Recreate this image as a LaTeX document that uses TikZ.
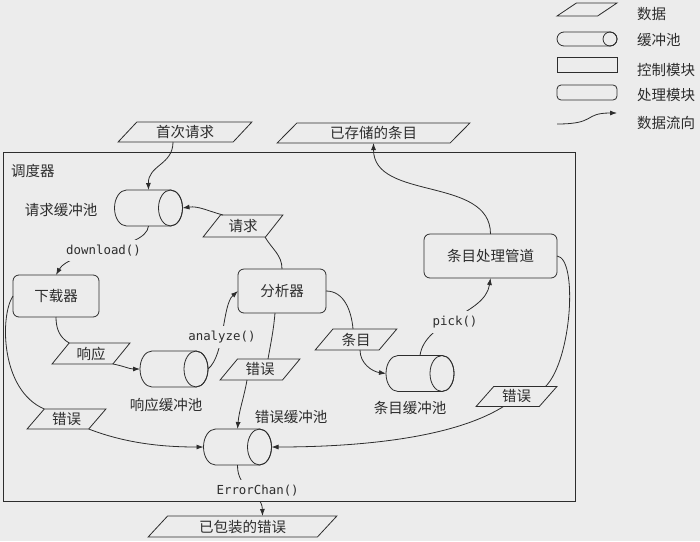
\documentclass[tikz,border=0pt]{standalone}
\usepackage{fontspec}
\setmainfont{Noto Sans CJK SC}
\setmonofont{DejaVu Sans Mono}
\usetikzlibrary{shapes.geometric,arrows.meta,calc}
\definecolor{bg}{RGB}{236,236,236}
\definecolor{ink}{RGB}{45,45,45}
\tikzset{
  every node/.style={text=ink},
  ln/.style={draw=ink, line width=0.8pt},
  arr/.style={ln, -{Latex[length=7pt,width=5pt]}},
  cjk/.style={font=\fontsize{14.5}{16}\selectfont},
  data/.style={cjk, trapezium, trapezium left angle=50, trapezium right angle=130,
    trapezium stretches=true, draw=ink, line width=0.8pt, inner sep=0pt, outer sep=0pt},
  proc/.style={cjk, rectangle, rounded corners=6pt, draw=ink, line width=0.8pt, inner sep=0pt, outer sep=0pt},
  buf/.style={rectangle, inner sep=0pt, outer sep=0pt, minimum width=68pt, minimum height=36pt},
  lbl/.style={cjk, inner sep=0pt},
  code/.style={font=\ttfamily\fontsize{12.4}{14}\selectfont, fill=bg, inner xsep=1pt, inner ysep=5pt},
}
\newcommand\cylshape[3]{%
  \draw[ln] ($(#1.north west)+(#2,0)$) arc[start angle=90,end angle=270,x radius=#2,y radius=#3]
    -- ($(#1.south east)-(#2,0)$) arc[start angle=-90,end angle=90,x radius=#2,y radius=#3] -- cycle;
  \draw[ln] ($(#1.east)-(#2,0)$) ellipse[x radius=#2,y radius=#3];
}
\begin{document}
\begin{tikzpicture}[x=1pt,y=1pt]
\useasboundingbox (0,0) rectangle (700,-541);
\fill[bg] (0,0) rectangle (700,-541);

% frame
\draw[ln] (3,-152) rectangle (575,-501);
\node[lbl,anchor=west] (sched) at (11,-171) {调度器};

% data nodes
\node[data,minimum width=134pt,minimum height=20pt] (first) at (185,-132) {首次请求};
\node[data,minimum width=193pt,minimum height=20pt] (stored) at (373.5,-133) {已存储的条目};
\node[data,minimum width=80pt,minimum height=22pt] (req) at (243,-226) {请求};
\node[data,minimum width=78pt,minimum height=21pt] (resp) at (91,-353.5) {响应};
\node[data,minimum width=80pt,minimum height=21pt] (err2) at (260,-369.5) {错误};
\node[data,minimum width=82pt,minimum height=21pt] (item) at (356,-339.5) {条目};
\node[data,minimum width=79pt,minimum height=20pt] (err1) at (66.5,-419) {错误};
\node[data,minimum width=81pt,minimum height=20pt] (err3) at (516.5,-396.5) {错误};
\node[data,minimum width=189pt,minimum height=21pt] (wrapped) at (242.5,-526.5) {已包装的错误};

% process nodes
\node[proc,minimum width=86pt,minimum height=42pt] (dlr) at (56,-296) {下载器};
\node[proc,minimum width=88pt,minimum height=44pt] (ana) at (282,-291) {分析器};
\node[proc,minimum width=133pt,minimum height=44pt] (pipe) at (490.5,-256) {条目处理管道};

% buffers
\node[buf] (reqbuf) at (148.5,-208) {};
\node[buf] (respbuf) at (174,-369) {};
\node[buf] (itembuf) at (420,-373.5) {};
\node[buf] (errbuf) at (237.5,-447) {};
\cylshape{reqbuf}{12}{18}
\cylshape{respbuf}{12}{18}
\cylshape{itembuf}{12}{18}
\cylshape{errbuf}{12}{18}
\node[lbl] (reqlbl) at (61,-210) {请求缓冲池};
\node[lbl] (resplbl) at (166,-405) {响应缓冲池};
\node[lbl] (itemlbl) at (410,-408) {条目缓冲池};
\node[lbl] (errlbl) at (291,-417) {错误缓冲池};

% connectors
\draw[arr] ([xshift=-12pt]first.south) .. controls (173,-165) and (148,-165) .. (reqbuf.north);
\draw[arr] (reqbuf.south) .. controls (146,-250) and (70,-250) .. (dlr.north)
  node[code,pos=0.5,xshift=-3pt] (dl) {download()};
\draw[ln] (ana.north) to[out=90,in=-60] ([xshift=22pt]req.south);
\draw[arr] ([xshift=-20pt]req.north) to[out=165,in=8] (reqbuf.east);
\draw[ln] (dlr.south) to[out=-90,in=150] (resp.top left corner);
\draw[arr] (resp.bottom right corner) to[out=-10,in=180] (respbuf.west);
\draw[arr] (respbuf.east) .. controls (225,-355) and (222,-305) .. (ana.west)
  node[code,pos=0.43] (an) {analyze()};
\draw[ln] ([xshift=-7pt]ana.south) to[out=-95,in=80] ([xshift=8pt]err2.north);
\draw[arr] ([xshift=-13pt]err2.south) to[out=-100,in=85] (errbuf.north);
\draw[ln] (ana.east) to[out=0,in=95] ([xshift=-3pt]item.north);
\draw[arr] ([xshift=4pt]item.south) to[out=-90,in=172] (itembuf.west);
\draw[arr] (pipe.north) to[out=90,in=-90] (stored.south);
\draw[ln] (pipe.east) .. controls (578,-258) and (572,-360) .. ([xshift=29pt]err3.north);
\draw[arr] ([xshift=-13pt]err3.south) .. controls (450,-440) and (350,-447) .. (errbuf.east);
\draw[ln] (dlr.west) .. controls (0,-315) and (0,-390) .. (err1.top left corner);
\draw[arr] (err1.bottom right corner) .. controls (130,-445) and (170,-447) .. (errbuf.west);
\draw[arr] (errbuf.south) .. controls (237,-490) and (262,-492) .. ([xshift=20pt]wrapped.north)
  node[code,pos=0.5,xshift=8pt] (ec) {ErrorChan()};
\draw[arr] (itembuf.north) .. controls (425,-320) and (485,-315) .. (pipe.south)
  node[code,pos=0.5,yshift=-5pt] (pk) {pick()};

% legend
\node[data,minimum width=60pt,minimum height=13pt] (lgdata) at (587,-9.5) {\phantom{x}};
\node[buf,minimum width=60pt,minimum height=14pt] (lgbuf) at (587,-39) {};
\cylshape{lgbuf}{7}{7}
\node[rectangle,draw=ink,line width=0.8pt,minimum width=60pt,minimum height=15pt,inner sep=0pt] (lgctrl) at (587,-64.5) {};
\node[rectangle,rounded corners=4pt,draw=ink,line width=0.8pt,minimum width=60pt,minimum height=15pt,inner sep=0pt] (lgproc) at (587,-92.5) {};
\coordinate (lgA) at (557,-124);
\coordinate (lgB) at (617,-113);
\draw[arr] (lgA) .. controls (597,-124) and (583,-113) .. (lgB);
\node[lbl,anchor=west] (t1) at (637,-14) {数据};
\node[lbl,anchor=west] (t2) at (637,-40) {缓冲池};
\node[lbl,anchor=west] (t3) at (637,-69.5) {控制模块};
\node[lbl,anchor=west] (t4) at (637,-95.5) {处理模块};
\node[lbl,anchor=west] (t5) at (637,-122.5) {数据流向};
\end{tikzpicture}
\end{document}
